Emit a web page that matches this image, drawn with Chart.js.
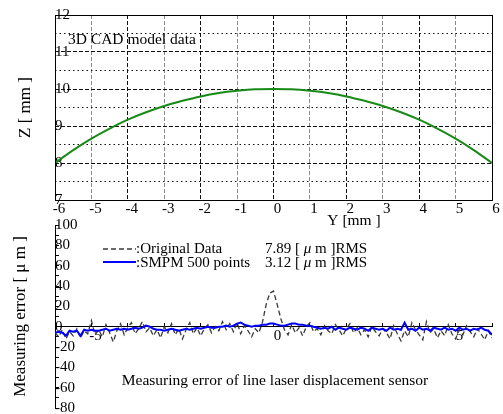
<!DOCTYPE html>
<html>
<head>
<meta charset="utf-8">
<script src="https://cdn.jsdelivr.net/npm/chart.js@4.4.1/dist/chart.umd.min.js"></script>
<style>
body { margin: 0; background: #fff; }
#wrap { position: relative; width: 503px; height: 414px; }
canvas { position: absolute; left: 0; top: 0; }
</style>
</head>
<body>
<div id="wrap">
  <canvas id="cad" width="503" height="414"></canvas>
  <canvas id="err" width="503" height="414"></canvas>
</div>
<script>
// top panel - 3D CAD model profile
const cadY = [-6, -5.5, -5, -4.5, -4, -3.5, -3, -2.5, -2, -1.5, -1, -0.5, 0, 0.5, 1, 1.5, 2, 2.5, 3, 3.5, 4, 4.5, 5, 5.5, 6];
const cadZ = [8.0, 8.35, 8.66, 8.93, 9.17, 9.37, 9.54, 9.68, 9.80, 9.89, 9.95, 9.99, 10.0, 9.99, 9.95, 9.89, 9.80, 9.68, 9.54, 9.37, 9.17, 8.93, 8.66, 8.35, 8.0];

// bottom panel - measuring error (um)
const errPos = [
  -6, -5.9, -5.8, -5.7, -5.6, -5.5, -5.4, -5.3, -5.2, -5.1,
  -5, -4.9, -4.8, -4.7, -4.6, -4.5, -4.4, -4.3, -4.2, -4.1,
  -4, -3.9, -3.8, -3.7, -3.6, -3.5, -3.4, -3.3, -3.2, -3.1,
  -3, -2.9, -2.8, -2.7, -2.6, -2.5, -2.4, -2.3, -2.2, -2.1,
  -2, -1.9, -1.8, -1.7, -1.6, -1.5, -1.4, -1.3, -1.2, -1.1,
  -1, -0.9, -0.8, -0.7, -0.6, -0.5, -0.4, -0.3, -0.2, -0.1,
  0, 0.1, 0.2, 0.3, 0.4, 0.5, 0.6, 0.7, 0.8, 0.9,
  1, 1.1, 1.2, 1.3, 1.4, 1.5, 1.6, 1.7, 1.8, 1.9,
  2, 2.1, 2.2, 2.3, 2.4, 2.5, 2.6, 2.7, 2.8, 2.9,
  3, 3.1, 3.2, 3.3, 3.4, 3.5, 3.6, 3.7, 3.8, 3.9,
  4, 4.1, 4.2, 4.3, 4.4, 4.5, 4.6, 4.7, 4.8, 4.9,
  5, 5.1, 5.2, 5.3, 5.4, 5.5, 5.6, 5.7, 5.8, 5.9,
  6
];
const errOriginal = [
  -6, -10, -3, -12, -5, -9, -2, -11, -4, -7,
  6, -8, -3, -10, 2, -6, -15, -4, 3, -8,
  -1, 4, -7, -2, 5, -5, -1, -9, -3, -11,
  0, -6, 3, -8, -2, -12, -3, 4, -7, -1,
  -9, -2, 2, -6, 0, -4, 5, -3, 3, -5,
  4, -7, 1, -4, -10, -2, -6, 5, 22, 33,
  35, 22, 8, -3, -8, 2, -6, -1, -9, 0,
  4, -5, -2, -8, 1, -4, -7, 2, -3, -9,
  -2, 3, -6, -1, -8, -3, -10, 0, -5, -9,
  -2, -6, -12, 1, -7, -14, -4, -10, 4, -3,
  -8, -13, 5, -6, -2, -11, -4, -9, 2, -7,
  -12, -3, -8, 1, -5, -10, -2, -7, -13, -4,
  -11
];
const errSmpm = [
  -6, -5, -6, -9, -4, -5, -4, -9, -3, -4,
  -3, -4, -4, -3, -2, -4, -3, -2, -3, -2,
  -3, -2, -1, -2, -1, 1, 0, -2, -3, -3,
  -4, -3, -2, -3, -4, -3, -2, -3, -2, -1,
  -2, -1, 0, -1, -1, 0, 0, 1, 0, 1,
  3, 4, 2, 1, 0, 1, 1, 2, 2, 3,
  3, 2, 1, 1, 2, 3, 3, 2, 2, 1,
  1, 0, -1, -2, -1, -2, 0, -3, -1, -2,
  -3, -1, -2, -3, -1, -2, -4, -1, -2, -3,
  -2, -4, -1, -3, -2, -3, 4, -3, -2, -4,
  -1, -3, -2, -4, -1, -2, -3, -1, -3, -2,
  -4, -1, -3, -2, -4, -2, -3, -1, -3, -4,
  -8
];
const errTickLabels = [-5, 0, 5];
const legendNames = [':Original Data', ':SMPM 500 points'];
const legendRms = ['7.89', '3.12'];

const FONT = 'Liberation Serif';
Chart.defaults.font.family = FONT;
Chart.defaults.font.size = 15;
Chart.defaults.color = '#000';

// pin axis boxes so the plot areas land where the reference has them
function fixWidth(w) {
  return s => { s.width = w; s.paddingTop = 0; s.paddingBottom = 0; };
}
function fixHeight(h) {
  return s => { s.height = h; s.paddingLeft = 0; s.paddingRight = 0; };
}

// text made of runs, some italic (the greek mu)
function drawRuns(ctx, x, y, runs) {
  runs.forEach(r => {
    ctx.font = (r[1] ? 'italic ' : '') + '15px "' + FONT + '"';
    ctx.fillText(r[0], x, y);
    x += ctx.measureText(r[0]).width;
  });
}

//Top chart//
new Chart(document.getElementById('cad'), {
  type: 'line',
  data: {
    datasets: [{
      data: cadY.map((y, i) => ({ x: y, y: cadZ[i] })),
      borderColor: '#178a17',
      borderWidth: 2,
      pointRadius: 0,
      cubicInterpolationMode: 'monotone'
    }]
  },
  options: {
    responsive: false,
    animation: false,
    layout: { padding: { left: 0, top: 15, right: 11, bottom: 194 } },
    plugins: { legend: { display: false }, tooltip: { enabled: false } },
    scales: {
      x: {
        type: 'linear', min: -6, max: 6,
        ticks: { stepSize: 1, padding: 0, labelOffset: 4, maxRotation: 0, autoSkip: false },
        grid: {
          drawTicks: false,
          color: c => (c.tick && Math.abs(c.tick.value) % 2 === 1) ? '#8a8a8a' : '#111'
        },
        border: { display: false, dash: [4, 2] },
        afterFit: fixHeight(20)
      },
      y: {
        min: 7, max: 12,
        ticks: {
          stepSize: 0.5, mirror: true, padding: 0, autoSkip: false,
          callback: v => Number.isInteger(v) ? v : ''
        },
        grid: { drawTicks: false, color: '#111' },
        border: {
          display: false,
          dash: c => (c.tick && !Number.isInteger(c.tick.value)) ? [1.5, 3] : [4, 2]
        },
        title: { display: true, text: 'Z [ mm ]', font: { size: 17 }, padding: { top: 15, bottom: 0 } },
        afterFit: fixWidth(55)
      }
    }
  },
  plugins: [{
    id: 'cadExtras',
    afterDraw(chart) {
      const ctx = chart.ctx, a = chart.chartArea;
      ctx.save();
      ctx.strokeStyle = '#000';
      ctx.lineWidth = 1;
      ctx.strokeRect(a.left + 0.5, a.top + 0.5, a.right - a.left, a.bottom - a.top);
      ctx.fillStyle = '#000';
      ctx.font = '15.5px "' + FONT + '"';
      ctx.textBaseline = 'middle';
      ctx.textAlign = 'left';
      ctx.fillText('3D CAD model data', 68, 40);
      ctx.textAlign = 'center';
      ctx.fillText('Y [mm ]', 354, 221);
      ctx.restore();
    }
  }]
});

//Bottom chart//
new Chart(document.getElementById('err'), {
  type: 'line',
  data: {
    datasets: [{
      label: 'Original Data',
      data: errPos.map((x, i) => ({ x: x, y: errOriginal[i] })),
      borderColor: '#3a3a3a',
      borderWidth: 1.3,
      borderDash: [5, 3],
      pointRadius: 0,
      order: 1
    }, {
      label: 'SMPM 500 points',
      data: errPos.map((x, i) => ({ x: x, y: errSmpm[i] })),
      borderColor: '#0000ff',
      borderWidth: 2,
      pointRadius: 0,
      order: 0
    }]
  },
  options: {
    responsive: false,
    animation: false,
    layout: { padding: { left: 0, top: 225, right: 11, bottom: 6 } },
    plugins: { legend: { display: false }, tooltip: { enabled: false } },
    scales: {
      x: {
        type: 'linear', min: -6, max: 6,
        position: { y: 0 },
        ticks: {
          stepSize: 1, padding: 4, labelOffset: 4, maxRotation: 0, autoSkip: false,
          callback: v => errTickLabels.includes(v) ? v : ''
        },
        grid: { drawOnChartArea: false, tickLength: -4, color: '#000' },
        border: { color: '#000' },
        afterFit: fixHeight(20)
      },
      y: {
        min: -80, max: 100,
        ticks: {
          stepSize: 10, mirror: true, padding: 0, autoSkip: false,
          callback: v => v % 20 === 0 ? v : ''
        },
        grid: { drawOnChartArea: false, tickLength: -4, color: '#000' },
        border: { color: '#000' },
        title: { display: true, text: 'Measuring error [ μ m ]', font: { size: 17 }, padding: { top: 10, bottom: 0 } },
        afterFit: fixWidth(55)
      }
    }
  },
  plugins: [{
    id: 'errExtras',
    afterDraw(chart) {
      const ctx = chart.ctx;
      const rows = [249, 263];
      ctx.save();
      // legend samples
      ctx.lineWidth = 1.3;
      ctx.strokeStyle = '#3a3a3a';
      ctx.setLineDash([5, 3]);
      ctx.beginPath(); ctx.moveTo(103, rows[0]); ctx.lineTo(136, rows[0]); ctx.stroke();
      ctx.setLineDash([]);
      ctx.lineWidth = 2;
      ctx.strokeStyle = '#0000ff';
      ctx.beginPath(); ctx.moveTo(103, rows[1] - 1); ctx.lineTo(136, rows[1] - 1); ctx.stroke();
      // legend text
      ctx.fillStyle = '#000';
      ctx.textBaseline = 'middle';
      ctx.textAlign = 'left';
      legendNames.forEach((name, i) => {
        drawRuns(ctx, 136, rows[i], [[name, false]]);
        drawRuns(ctx, 265, rows[i], [[legendRms[i] + ' [ ', false], ['μ', true], [' m ]RMS', false]]);
      });
      ctx.font = '15.5px "' + FONT + '"';
      ctx.textAlign = 'center';
      ctx.fillText('Measuring error of line laser displacement sensor', 275, 381);
      ctx.restore();
    }
  }]
});
</script>
</body>
</html>
